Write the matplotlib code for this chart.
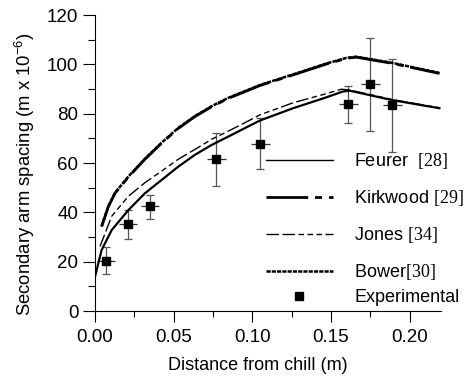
import matplotlib
matplotlib.use("Agg")
import matplotlib.pyplot as plt
from matplotlib.ticker import MultipleLocator

plt.rcParams['font.family'] = ['Liberation Sans', 'DejaVu Sans']
plt.rcParams['mathtext.fontset'] = 'custom'
plt.rcParams['mathtext.rm'] = 'Liberation Serif'
plt.rcParams['mathtext.sf'] = 'Liberation Sans'
plt.rcParams['lines.scale_dashes'] = False

# ---- data ----
feurer_x = [0.000, 0.0042, 0.0106, 0.0212, 0.0317, 0.0423, 0.0529, 0.0635, 0.0741, 0.0847,
            0.0952, 0.1048, 0.1259, 0.147, 0.1577, 0.162, 0.189, 0.219]
feurer_y = [13.9, 24.7, 32.8, 40.9, 47.7, 53.1, 58.5, 63.3, 67.3, 70.7,
            74.1, 77.2, 82.2, 86.6, 89.0, 89.3, 85.5, 82.2]

jones_x = [0.0032, 0.0106, 0.0212, 0.0317, 0.0423, 0.0529, 0.0635, 0.0741, 0.0847,
           0.0952, 0.1048, 0.1259, 0.147, 0.1566, 0.162, 0.189, 0.219]
jones_y = [26.2, 38.4, 46.5, 52.0, 56.7, 61.5, 65.5, 69.6, 72.9,
           76.3, 79.5, 84.4, 88.1, 89.9, 89.6, 85.7, 82.4]

kirk_x = [0.0042, 0.0085, 0.0127, 0.0212, 0.0317, 0.0423, 0.0529, 0.0635, 0.0741, 0.0847,
          0.0952, 0.1048, 0.1259, 0.147, 0.1598, 0.1661, 0.189, 0.219]
kirk_y = [34.2, 42.3, 47.7, 54.3, 61.5, 68.0, 74.0, 78.8, 82.8, 86.2,
          88.9, 91.4, 95.7, 100.1, 102.4, 102.9, 100.4, 96.3]

bower_x = [0.0042, 0.0085, 0.0127, 0.0212, 0.0317, 0.0423, 0.0529, 0.0635, 0.0741, 0.0847,
           0.0952, 0.1048, 0.1259, 0.147, 0.1598, 0.1661, 0.189, 0.219]
bower_y = [34.4, 42.5, 47.9, 54.5, 61.7, 68.2, 74.2, 79.0, 83.0, 86.4,
           89.1, 91.6, 95.9, 100.3, 102.6, 103.1, 100.6, 96.5]

exp_x = [0.007, 0.021, 0.035, 0.077, 0.105, 0.161, 0.175, 0.189]
exp_y = [20.3, 35.1, 42.5, 61.6, 67.8, 83.9, 91.9, 83.4]
exp_lo = [15.0, 29.0, 37.5, 50.7, 57.5, 76.3, 73.1, 64.6]
exp_hi = [26.0, 41.0, 47.0, 72.0, 78.1, 91.3, 110.5, 102.1]
exp_xerr = 0.006

labels = [r"Feurer  $\mathrm{[28]}$", r"Kirkwood $\mathrm{[29]}$",
          r"Jones $\mathrm{[34]}$", r"Bower$\mathrm{[30]}$", "Experimental"]

fig = plt.figure(figsize=(4.67, 3.81), dpi=100)
ax = fig.add_axes([95/467, 1-311/381, (441-95)/467, (311-15)/381])

yerr = [[y - lo for y, lo in zip(exp_y, exp_lo)], [hi - y for y, hi in zip(exp_y, exp_hi)]]
ax.errorbar(exp_x, exp_y, yerr=yerr, fmt='none', ecolor='#555555', elinewidth=0.9,
            capsize=3, capthick=0.9, zorder=2)
ax.errorbar(exp_x, exp_y, xerr=exp_xerr, fmt='none', ecolor='#333333', elinewidth=0.9,
            capsize=0, zorder=2)
pts, = ax.plot(exp_x, exp_y, 's', color='black', markersize=6.3, zorder=4)

lf, = ax.plot(feurer_x, feurer_y, color='black', lw=1.6, zorder=3)
lk, = ax.plot(kirk_x, kirk_y, color='black', lw=2.0, dashes=(30, 5, 5, 5), zorder=3)
lj, = ax.plot(jones_x, jones_y, color='black', lw=1.0,
              dashes=(9, 2.5, 9, 2.5, 4, 2.5, 4, 2.5, 4, 2.5), zorder=3)
lb, = ax.plot(bower_x, bower_y, color='black', lw=1.8, dashes=(3, 0.8), zorder=3)

ax.set_xlim(0, 0.22)
ax.set_ylim(0, 120)
ax.xaxis.set_major_locator(MultipleLocator(0.05))
ax.xaxis.set_minor_locator(MultipleLocator(0.025))
ax.yaxis.set_major_locator(MultipleLocator(20))
ax.yaxis.set_minor_locator(MultipleLocator(10))
ax.set_xticks([0, 0.05, 0.10, 0.15, 0.20])
ax.set_xticklabels(['0.00', '0.05', '0.10', '0.15', '0.20'])
ax.spines['top'].set_visible(False)
ax.spines['right'].set_visible(False)
for s in ('left', 'bottom'):
    ax.spines[s].set_linewidth(0.8)
ax.tick_params(axis='y', which='major', direction='out', length=9, width=0.8, labelsize=13.5, pad=3)
ax.tick_params(axis='y', which='minor', direction='out', length=5, width=0.8)
ax.tick_params(axis='x', which='major', direction='out', length=8, width=0.8, labelsize=13.5, pad=5)
ax.tick_params(axis='x', which='minor', direction='out', length=4, width=0.8)

ax.set_xlabel("Distance from chill (m)", fontsize=13)
ax.xaxis.set_label_coords(0.471, -0.155)
ax.set_ylabel(r"Secondary arm spacing (m x 10$^{\mathsf{-6}}$)", fontsize=13.3, va='center')
ax.yaxis.set_label_coords(-0.202, 0.463)

leg1 = ax.legend([lf, lk, lj, lb], labels[:4], loc='upper left',
                 bbox_to_anchor=(266/467, 1-(160-9)/381), bbox_transform=fig.transFigure,
                 frameon=False, fontsize=13, handlelength=3.7, handletextpad=1.2,
                 labelspacing=0.95, borderpad=0, borderaxespad=0)
leg1.legend_handles[0].set_linewidth(1.0)
ax.add_artist(leg1)
ax.legend([pts], labels[4:], loc='upper left',
          bbox_to_anchor=(266/467, 1-(296-7)/381), bbox_transform=fig.transFigure,
          frameon=False, fontsize=13, handlelength=3.7, handletextpad=1.2,
          borderpad=0, borderaxespad=0, markerscale=0.9)

fig.savefig("out.png", dpi=100)
